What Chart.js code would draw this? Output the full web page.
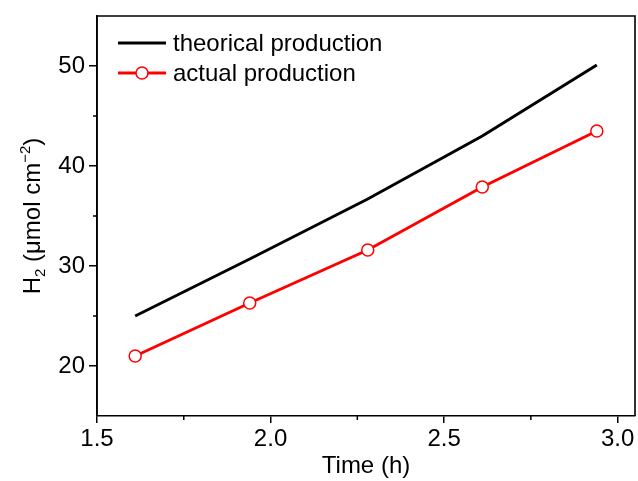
<!DOCTYPE html>
<html>
<head>
<meta charset="utf-8">
<script src="https://cdn.jsdelivr.net/npm/chart.js@4.4.1/dist/chart.umd.min.js"></script>
<style>
html,body{margin:0;padding:0;background:#fff;}
canvas{display:block;}
</style>
</head>
<body>
<canvas id="c" width="638" height="481"></canvas>
<script>
// ---- data ----
const timeH = [1.61, 1.94, 2.28, 2.61, 2.94];
const theoretical = [25.0, 30.7, 36.7, 43.0, 50.1];
const actual = [21.0, 26.3, 31.6, 37.9, 43.5];
const seriesNames = ['theorical production', 'actual production'];
const xMajorTicks = [1.5, 2.0, 2.5, 3.0];
const xMinorTicks = [1.75, 2.25, 2.75];
const yMajorTicks = [20, 30, 40, 50];
const yMinorTicks = [25, 35, 45];
const xTitle = 'Time (h)';

const FONT = 'Liberation Sans, Arial, sans-serif';
const FS = 24;

const framePlugin = {
  id: 'frame',
  afterDraw(chart) {
    const ctx = chart.ctx, a = chart.chartArea;
    const xs = chart.scales.x, ys = chart.scales.y;
    ctx.save();
    ctx.strokeStyle = '#000';
    ctx.lineWidth = 1.6;
    ctx.beginPath();
    ctx.moveTo(a.left, a.bottom); ctx.lineTo(a.left, a.top); ctx.lineTo(a.right, a.top); ctx.lineTo(a.right, a.bottom);
    ctx.stroke();
    // minor ticks
    ctx.lineWidth = 1.5;
    ctx.beginPath();
    xMinorTicks.forEach(v => { const px = xs.getPixelForValue(v); ctx.moveTo(px, a.bottom); ctx.lineTo(px, a.bottom + 4); });
    yMinorTicks.forEach(v => { const py = ys.getPixelForValue(v); ctx.moveTo(a.left, py); ctx.lineTo(a.left - 4, py); });
    ctx.stroke();
    // y axis title with subscript / superscript
    ctx.translate(32, (a.top + a.bottom) / 2);
    ctx.rotate(-Math.PI / 2);
    ctx.fillStyle = '#000';
    ctx.textBaseline = 'alphabetic';
    ctx.textAlign = 'left';
    const big = FS + 'px ' + FONT, small = Math.round(FS * 0.62) + 'px ' + FONT;
    const parts = [
      {t: 'H', f: big, dy: 0},
      {t: '2', f: small, dy: 5},
      {t: ' (\u03bcmol cm', f: big, dy: 0},
      {t: '\u22122', f: small, dy: -10},
      {t: ')', f: big, dy: 0}
    ];
    let total = 0;
    parts.forEach(p => { ctx.font = p.f; p.w = ctx.measureText(p.t).width; total += p.w; });
    let x = -total / 2;
    parts.forEach(p => { ctx.font = p.f; ctx.fillText(p.t, x, 8 + p.dy); x += p.w; });
    ctx.restore();
    // legend
    ctx.save();
    ctx.font = FS + 'px ' + FONT;
    ctx.textBaseline = 'middle';
    const rows = [43, 73];
    chart.data.datasets.forEach((ds, i) => {
      const y = rows[i];
      ctx.strokeStyle = ds.borderColor;
      ctx.lineWidth = ds.borderWidth;
      ctx.beginPath(); ctx.moveTo(118, y); ctx.lineTo(166, y); ctx.stroke();
      if (ds.pointRadius > 0) {
        ctx.beginPath(); ctx.arc(142, y, ds.pointRadius, 0, Math.PI * 2);
        ctx.fillStyle = ds.pointBackgroundColor; ctx.fill();
        ctx.lineWidth = ds.pointBorderWidth; ctx.strokeStyle = ds.pointBorderColor; ctx.stroke();
      }
      ctx.fillStyle = '#000';
      ctx.fillText(ds.label, 173, y + 1);
    });
    ctx.restore();
  }
};

new Chart(document.getElementById('c'), {
  type: 'line',
  data: {
    datasets: [
      {
        label: seriesNames[0],
        data: timeH.map((t, i) => ({x: t, y: theoretical[i]})),
        borderColor: '#000000', borderWidth: 3, pointRadius: 0, pointHoverRadius: 0,
        tension: 0, fill: false
      },
      {
        label: seriesNames[1],
        data: timeH.map((t, i) => ({x: t, y: actual[i]})),
        borderColor: '#ff0000', borderWidth: 3, pointRadius: 6, pointHoverRadius: 6,
        pointBackgroundColor: '#ffffff', pointBorderColor: '#ff0000', pointBorderWidth: 1.5,
        tension: 0, fill: false
      }
    ]
  },
  options: {
    responsive: false,
    animation: false,
    events: [],
    layout: {autoPadding: false, padding: {top: 16, right: 3, left: 0, bottom: 0}},
    plugins: {legend: {display: false}, tooltip: {enabled: false}},
    scales: {
      x: {
        type: 'linear', position: 'bottom', min: 1.5, max: 3.05,
        afterBuildTicks: s => { s.ticks = xMajorTicks.map(v => ({value: v})); },
        afterFit: s => { s.height = 65; s.paddingLeft = 0; s.paddingRight = 0; },
        ticks: {color: '#000', font: {family: FONT, size: FS}, padding: 2, maxRotation: 0,
          callback: v => v.toFixed(1)},
        grid: {display: true, drawOnChartArea: false, drawTicks: true, tickLength: 7, color: '#000', lineWidth: 1.5},
        border: {display: true, color: '#000', width: 1.6},
        title: {display: true, text: xTitle, color: '#000', font: {family: FONT, size: FS}, padding: {top: 0, bottom: 0}}
      },
      y: {
        type: 'linear', position: 'left', min: 15, max: 55,
        afterBuildTicks: s => { s.ticks = yMajorTicks.map(v => ({value: v})); },
        afterFit: s => { s.width = 97; s.paddingTop = 0; s.paddingBottom = 0; },
        ticks: {color: '#000', font: {family: FONT, size: FS}, padding: 4},
        grid: {display: true, drawOnChartArea: false, drawTicks: true, tickLength: 8, color: '#000', lineWidth: 1.5},
        border: {display: true, color: '#000', width: 1.6},
        title: {display: false}
      }
    }
  },
  plugins: [framePlugin]
});
</script>
</body>
</html>
